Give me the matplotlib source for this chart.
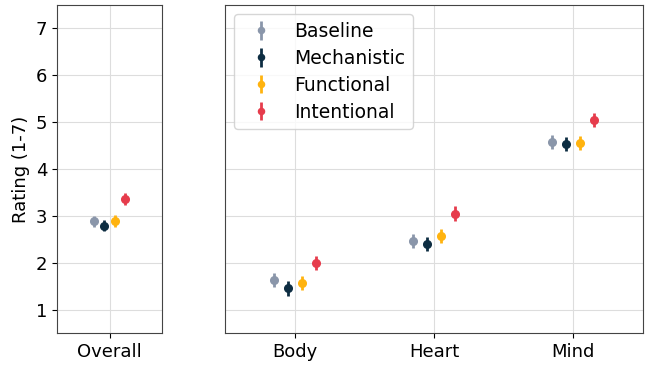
import numpy as np
import matplotlib.pyplot as plt

conditions = ['Baseline', 'Mechanistic', 'Functional', 'Intentional']
colors = ['#8a96aa', '#0d2d42', '#ffb30f', '#e63c4c']
offsets = [-0.15, -0.05, 0.05, 0.15]

overall_mean = [2.88, 2.79, 2.89, 3.36]
overall_err = [0.12, 0.12, 0.12, 0.13]

parts = ['Body', 'Heart', 'Mind']
body_mean = [1.63, 1.45, 1.57, 2.00]
heart_mean = [2.47, 2.39, 2.57, 3.05]
mind_mean = [4.57, 4.53, 4.55, 5.04]
part_err = [0.15, 0.15, 0.15, 0.15]

fig = plt.figure(figsize=(6.45, 3.66), dpi=100)
ax1 = fig.add_axes([57/645, 1-333/366, 105/645, 328/366])
ax2 = fig.add_axes([225/645, 1-333/366, 418/645, 328/366], sharey=ax1)

for i, c in enumerate(conditions):
    ax1.errorbar(0 + offsets[i], overall_mean[i], yerr=overall_err[i], fmt='o',
                 color=colors[i], ms=5.5, elinewidth=2, capsize=0)
    vals = [body_mean[i], heart_mean[i], mind_mean[i]]
    ax2.errorbar(np.arange(3) + offsets[i], vals, yerr=part_err[i], fmt='o',
                 color=colors[i], ms=5.5, elinewidth=2, capsize=0, label=c)

ax1.set_xlim(-0.5, 0.5)
ax1.set_xticks([0])
ax1.set_xticklabels(['Overall'])
ax1.set_ylim(0.5, 7.5)
ax1.set_yticks(range(1, 8))
ax1.set_ylabel('Rating (1-7)', fontsize=13)

ax2.set_xlim(-0.5, 2.5)
ax2.set_xticks(range(3))
ax2.set_xticklabels(parts)
ax2.tick_params(axis='y', left=False, labelleft=False)

for ax in (ax1, ax2):
    ax.grid(True, color='#dddddd', linewidth=0.8)
    ax.set_axisbelow(True)
    ax.tick_params(labelsize=13)
    for s in ax.spines.values():
        s.set_color('#444444')

ax2.legend(loc='upper left', fontsize=13.5, handletextpad=0.8, borderpad=0.4,
           labelspacing=0.42, markerscale=0.8, borderaxespad=0.5)

fig.savefig('out.png', dpi=100)
